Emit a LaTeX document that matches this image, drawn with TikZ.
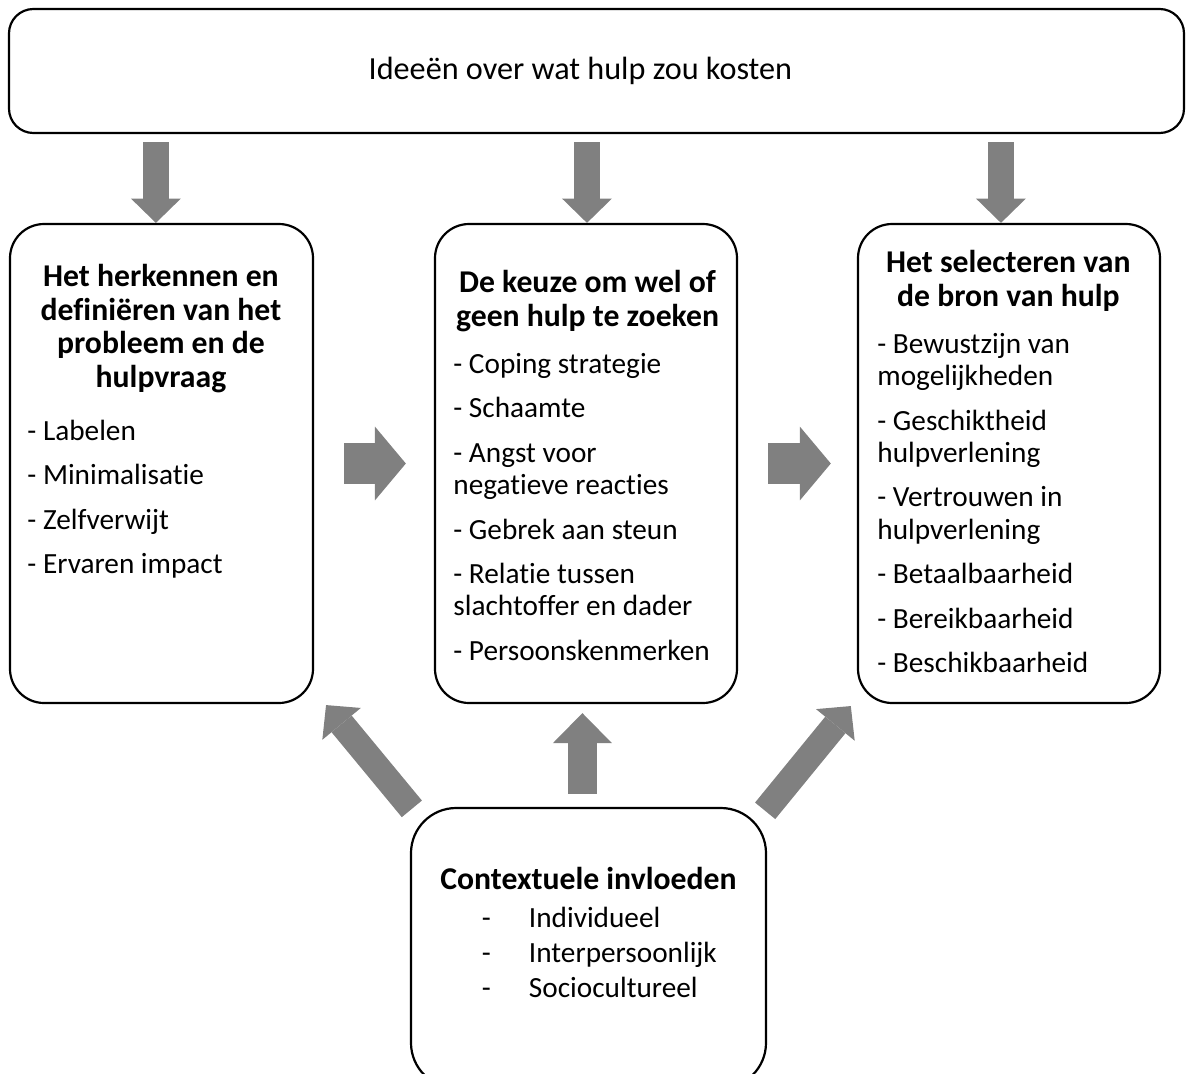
\documentclass[tikz,border=0pt]{standalone}
\usepackage{fontspec}
\setmainfont{Carlito}[Ligatures=NoCommon]
\usetikzlibrary{positioning,fit,arrows.meta}
\definecolor{pijlgrijs}{RGB}{128,128,128}
\newcommand{\kopfont}{\fontsize{13}{13.9}\selectfont\bfseries}

\begin{document}
\begin{tikzpicture}[x=0.41pt,y=-0.41pt,
  box/.style={draw, line width=0.9pt, rounded corners=14pt, inner sep=0pt},
  lijst/.style={inner sep=0pt, anchor=north west, align=flush left, font=\fontsize{12}{13.3}\selectfont, execute at begin node={\setlength{\parskip}{4.9pt}}}]
\tikzstyle{pijl}=[draw=pijlgrijs, line width=10.7pt, -{Triangle[width=20.5pt, length=10pt, line width=0pt]}]
\tikzstyle{hpijl}=[draw=pijlgrijs, line width=16.8pt, -{Triangle[width=30.3pt, length=12.7pt, line width=0pt]}]
\tikzstyle{opijl}=[draw=pijlgrijs, line width=11.9pt, -{Triangle[width=24.2pt, length=12.3pt, line width=0pt]}]
\useasboundingbox (0,0) rectangle (1186,1074);
\clip (0,0) rectangle (1186,1074);

\node[box, rounded corners=10pt, fit={(9,9) (1184,133)}] (kosten) {};
\node[font=\fontsize{13.2}{15}\selectfont] (kostentxt) at ([xshift=-6.6pt]kosten.center) {Ideeën over wat hulp zou kosten};

\node[box, fit={(10,224) (313,703)}] (herk) {};
\node[box, fit={(435,224) (737,703)}] (keuze) {};
\node[box, fit={(858,224) (1160,703)}] (bron) {};
\node[box, rounded corners=18.5pt, fit={(411,808) (766,1088)}] (context) {};

\node[lijst, text width=109.5pt] (herktxt) at ([xshift=7.4pt,yshift=-16.6pt]herk.north west) {%
{\kopfont\centering Het herkennen en\\definiëren van het\\probleem en de\\hulpvraag\par}\vspace{3.4pt}
- Labelen\par
- Minimalisatie\par
- Zelfverwijt\par
- Ervaren impact};
\node[lijst, text width=110pt] (keuzetxt) at ([xshift=7.8pt,yshift=-19.3pt]keuze.north west) {%
{\kopfont\centering De keuze om wel of\\geen hulp te zoeken\par}\vspace{1pt}
- Coping strategie\par
- Schaamte\par
- Angst voor\\negatieve reacties\par
- Gebrek aan steun\par
- Relatie tussen\\slachtoffer en dader\par
- Persoonskenmerken};
\node[lijst, text width=107.4pt] (brontxt) at ([xshift=8.2pt,yshift=-11pt]bron.north west) {%
{\kopfont\centering Het selecteren van\\de bron van hulp\par}\vspace{1pt}
- Bewustzijn van\\mogelijkheden\par
- Geschiktheid\\hulpverlening\par
- Vertrouwen in\\hulpverlening\par
- Betaalbaarheid\par
- Bereikbaarheid\par
- Beschikbaarheid};
\node[inner sep=0pt, anchor=north, align=flush left, text width=131.2pt, font=\fontsize{12}{14.35}\selectfont] (contexttxt) at ([yshift=-24.4pt]context.north) {%
{\kopfont\centering Contextuele invloeden\par}\vspace{1.2pt}
\hspace*{21.9pt}\begin{tabular}[t]{@{}p{19.3pt}@{}l@{}}
- & Individueel\\
- & Interpersoonlijk\\
- & Sociocultureel
\end{tabular}};

\foreach \b/\s in {herk/-2.3pt, keuze/0.4pt, bron/-3.3pt}
  \draw[pijl, shorten <=3.3pt] ([xshift=\s]kosten.south -| \b.north) -- ([xshift=\s]\b.north);
\draw[hpijl, shorten <=12.3pt, shorten >=11.5pt] (herk.east) -- (keuze.west);
\draw[hpijl, shorten <=12.3pt, shorten >=10.7pt] (keuze.east) -- (bron.west);
\draw[opijl, shorten <=5.3pt, shorten >=3.7pt] ([xshift=-2.5pt]context.north) -- ([xshift=-2.5pt]context.north |- keuze.south);
\draw[pijl] ([xshift=0.8pt,yshift=-0.8pt]context.north west) -- ([xshift=4.9pt,yshift=-0.4pt]herk.south east);
\draw[pijl] ([xshift=-0.8pt,yshift=-1.6pt]context.north east) -- ([xshift=-2.5pt,yshift=-0.8pt]bron.south west);
\end{tikzpicture}
\end{document}
